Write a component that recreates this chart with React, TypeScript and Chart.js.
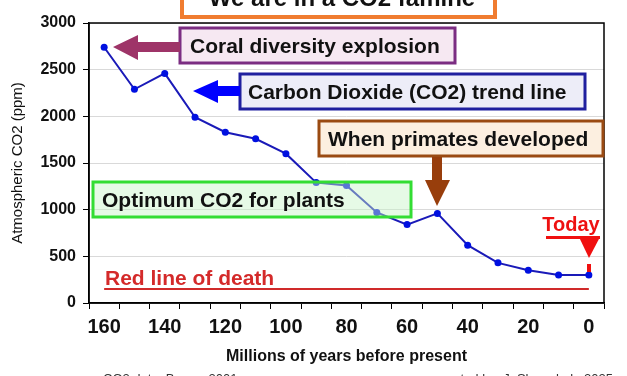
import React, { useEffect, useRef } from 'react';
import { Chart, registerables } from 'chart.js';

Chart.register(...registerables);

const years = ['160', '150', '140', '130', '120', '110', '100', '90', '80', '70', '60', '50', '40', '30', '20', '10', '0'];
const co2 = [2740, 2290, 2460, 1990, 1830, 1760, 1600, 1290, 1260, 970, 840, 960, 620, 430, 350, 300, 300];
const deathLevel = 150;
const yMin = 0;
const yMax = 3000;
const yStep = 500;

const FONT = '"Liberation Sans", Arial, sans-serif';

function box(ctx: CanvasRenderingContext2D, x: number, y: number, w: number, h: number, fill: string, stroke: string, lw: number) {
  ctx.save();
  ctx.fillStyle = fill;
  ctx.fillRect(x, y, w, h);
  ctx.strokeStyle = stroke;
  ctx.lineWidth = lw;
  ctx.strokeRect(x, y, w, h);
  ctx.restore();
}

function text(ctx: CanvasRenderingContext2D, s: string, x: number, y: number, size: number, color: string, bold = true, align: CanvasTextAlign = 'left') {
  ctx.save();
  ctx.font = `${bold ? 'bold ' : ''}${size}px ${FONT}`;
  ctx.fillStyle = color;
  ctx.textAlign = align;
  ctx.textBaseline = 'alphabetic';
  ctx.fillText(s, x, y);
  ctx.restore();
}

function poly(ctx: CanvasRenderingContext2D, pts: number[][], color: string) {
  ctx.save();
  ctx.fillStyle = color;
  ctx.beginPath();
  ctx.moveTo(pts[0][0], pts[0][1]);
  for (let i = 1; i < pts.length; i++) ctx.lineTo(pts[i][0], pts[i][1]);
  ctx.closePath();
  ctx.fill();
  ctx.restore();
}

const decorPlugin = {
  id: 'decor',
  beforeDatasetsDraw(chart: any) {
    const ctx = chart.ctx as CanvasRenderingContext2D;
    const { left, right, top, bottom } = chart.chartArea;
    const xs = chart.scales.x;
    const ys = chart.scales.y;
    // red line of death
    const yd = ys.getPixelForValue(deathLevel);
    ctx.save();
    ctx.strokeStyle = '#d02a2a';
    ctx.lineWidth = 2;
    ctx.beginPath();
    ctx.moveTo(xs.getPixelForValue(0), yd);
    ctx.lineTo(xs.getPixelForValue(years.length - 1), yd);
    ctx.stroke();
    ctx.restore();
    // plot border
    ctx.save();
    ctx.strokeStyle = '#000';
    ctx.lineWidth = 1.5;
    ctx.strokeRect(left, top, right - left, bottom - top);
    ctx.restore();
  },
  afterDatasetsDraw(chart: any) {
    const ctx = chart.ctx as CanvasRenderingContext2D;
    // Title box
    box(ctx, 182, -30, 313, 47, '#ffffff', '#f07c30', 4);
    text(ctx, 'We are in a CO2 famine', 342, 6, 24, '#111', true, 'center');

    // Coral diversity explosion
    box(ctx, 180, 28, 275, 35, '#f6e8f2', '#7b2d82', 3);
    text(ctx, 'Coral diversity explosion', 190, 53, 21, '#111');
    poly(ctx, [[113, 47], [138, 35], [138, 42], [180, 42], [180, 52], [138, 52], [138, 60]], '#9e3468');

    // Carbon dioxide trend line
    box(ctx, 240, 74, 345, 35, '#ededf8', '#1f1f9f', 3);
    text(ctx, 'Carbon Dioxide (CO2) trend line', 248, 99, 21, '#111');
    poly(ctx, [[193, 91], [218, 80], [218, 86], [240, 86], [240, 96], [218, 96], [218, 103]], '#0000ff');

    // Primates
    box(ctx, 319, 121, 284, 35, '#fcefe0', '#9a4a12', 3);
    text(ctx, 'When primates developed', 328, 146, 21, '#111');
    poly(ctx, [[432, 157], [442, 157], [442, 180], [450, 180], [437, 206], [425, 180], [432, 180]], '#983e0c');

    // Optimum CO2 for plants
    box(ctx, 93, 182, 318, 35, 'rgba(200,245,200,0.45)', '#33dd33', 3);
    text(ctx, 'Optimum CO2 for plants', 102, 207, 21, '#111');

    // Red line of death label
    text(ctx, 'Red line of death', 105, 285, 21, '#d42a2a');

    // Today
    text(ctx, 'Today', 571, 231, 20, '#ee1111', true, 'center');
    ctx.save();
    ctx.fillStyle = '#f01010';
    ctx.fillRect(546, 236, 54, 3);
    ctx.fillRect(587, 264, 4, 8);
    ctx.restore();
    poly(ctx, [[579, 237], [600, 237], [589, 258]], '#f01010');

    // footer
    text(ctx, 'CO2 data: Berner 2001', 103, 383, 13, '#333', false);
    text(ctx, 'created by: J. Shewchuk, 2025', 613, 383, 13, '#333', false, 'right');
  },
};

export default function App() {
  const ref = useRef<HTMLCanvasElement>(null);
  useEffect(() => {
    document.body.style.margin = '0';
    const c = ref.current;
    if (!c) return;
    const chart = new Chart(c, {
      type: 'line',
      data: {
        labels: years,
        datasets: [
          {
            data: co2,
            borderColor: '#1a1ab8',
            borderWidth: 2,
            pointBackgroundColor: '#0010e0',
            pointBorderWidth: 0,
            pointRadius: 3.5,
            tension: 0,
          },
        ],
      },
      options: {
        animation: false,
        responsive: true,
        maintainAspectRatio: false,
        layout: { padding: { top: 23, right: 23, left: 0, bottom: 0 } },
        plugins: { legend: { display: false }, tooltip: { enabled: false }, title: { display: false } },
        scales: {
          x: {
            type: 'category',
            offset: true,
            afterFit: (s: any) => { s.height = 73; },
            grid: { offset: true, drawOnChartArea: false, drawTicks: true, tickLength: 6, color: '#000', lineWidth: 1 },
            border: { display: true, color: '#000', width: 1.5 },
            ticks: {
              autoSkip: false,
              maxRotation: 0,
              padding: 6,
              color: '#111',
              font: { family: FONT, size: 20, weight: 'bold' },
              callback: (_v: any, i: number) => (i % 2 === 0 ? years[i] : ''),
            },
            title: {
              display: true,
              text: 'Millions of years before present',
              color: '#111',
              font: { family: FONT, size: 16, weight: 'bold' },
              padding: { top: 0, bottom: 10 },
            },
          },
          y: {
            min: yMin,
            max: yMax,
            afterFit: (s: any) => { s.width = 89; },
            grid: { color: '#d9d9d9', tickColor: '#000', tickLength: 6, lineWidth: 1 },
            border: { display: true, color: '#000', width: 1.5 },
            ticks: {
              stepSize: yStep,
              padding: 7,
              color: '#111',
              font: { family: FONT, size: 16, weight: 'bold' },
              callback: (v: any) => String(v),
            },
            title: {
              display: true,
              text: 'Atmospheric CO2 (ppm)',
              color: '#111',
              font: { family: FONT, size: 15, weight: 'normal' },
              padding: { top: 9, bottom: 0 },
            },
          },
        },
      },
      plugins: [decorPlugin],
    });
    return () => chart.destroy();
  }, []);
  return (
    <div style={{ width: 627, height: 376, position: 'relative' }}>
      <canvas ref={ref} />
    </div>
  );
}
